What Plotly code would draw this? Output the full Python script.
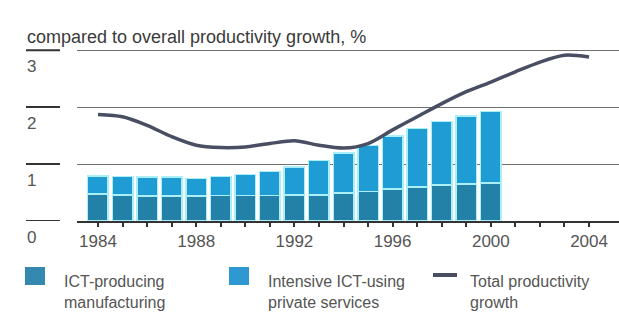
import plotly.graph_objects as go

# ---- data ----
bar_years = list(range(1984, 2001))
ict_producing = [0.47, 0.46, 0.44, 0.44, 0.44, 0.45, 0.45, 0.45, 0.46, 0.46,
                 0.49, 0.52, 0.56, 0.60, 0.63, 0.65, 0.67]
bar_totals = [0.79, 0.78, 0.77, 0.77, 0.75, 0.78, 0.82, 0.87, 0.95, 1.06,
              1.19, 1.33, 1.49, 1.62, 1.75, 1.84, 1.92]
ict_using = [round(t - d, 2) for t, d in zip(bar_totals, ict_producing)]

line_years = list(range(1984, 2005))
total_growth = [1.87, 1.83, 1.68, 1.48, 1.33, 1.29, 1.30, 1.36, 1.41, 1.33,
                1.28, 1.36, 1.60, 1.83, 2.06, 2.27, 2.44, 2.62, 2.79, 2.91, 2.88]

y_ticks = [0, 1, 2, 3]
x_tick_years = list(range(1984, 2005))
x_tick_labels = [str(y) if (y - 1984) % 4 == 0 else "" for y in x_tick_years]

series_names = ["ICT-producing<br>manufacturing",
                "Intensive ICT-using<br>private services",
                "Total productivity<br>growth"]
title_text = "compared to overall productivity growth, %"

# ---- style ----
DARK = "#2380a6"
LIGHT = "#1f9cd4"
LINE = "#4a4e62"
EDGE = "#aaeff8"
TXT = "#555555"
FONT = "Liberation Sans, Arial, sans-serif"

W, H = 619, 320
ML, MR, MT, MB = 77, 0, 49, 99
PW, PH = W - ML - MR, H - MT - MB


def px(x):
    return (x - ML) / PW


def py(y):
    return (H - MB - y) / PH


fig = go.Figure()
fig.add_trace(go.Bar(x=bar_years, y=ict_producing, name=series_names[0],
                     marker=dict(color=DARK, line=dict(color=EDGE, width=1.5)),
                     showlegend=False))
fig.add_trace(go.Bar(x=bar_years, y=ict_using, name=series_names[1],
                     marker=dict(color=LIGHT, line=dict(color=EDGE, width=1.5)),
                     showlegend=False))
fig.add_trace(go.Scatter(x=line_years, y=total_growth, name=series_names[2],
                         mode="lines", line=dict(color=LINE, width=3.5, shape="spline",
                                                 smoothing=0.8),
                         showlegend=False))

shapes = []
annotations = []
# short marks and labels at left of y axis
for v in y_ticks:
    shapes.append(dict(type="line", xref="paper", yref="y",
                       x0=px(26), x1=px(60), y0=v, y1=v,
                       line=dict(color="#333333", width=2)))
    annotations.append(dict(xref="paper", yref="y", x=px(25), y=v, yshift=-16,
                            text=str(v), showarrow=False, xanchor="left",
                            yanchor="middle",
                            font=dict(family=FONT, size=17, color=TXT)))

# title
annotations.append(dict(xref="paper", yref="paper", x=px(25), y=py(37),
                        text=title_text, showarrow=False, xanchor="left",
                        yanchor="middle",
                        font=dict(family=FONT, size=18, color="#3a3a3a")))

# legend (custom)
shapes.append(dict(type="rect", xref="paper", yref="paper",
                   x0=px(25), x1=px(45), y0=py(267), y1=py(285),
                   fillcolor="#3589b0", line=dict(width=0)))
shapes.append(dict(type="rect", xref="paper", yref="paper",
                   x0=px(229), x1=px(249), y0=py(267), y1=py(285),
                   fillcolor="#2d98d2", line=dict(width=0)))
shapes.append(dict(type="line", xref="paper", yref="paper",
                   x0=px(433), x1=px(457), y0=py(275), y1=py(275),
                   line=dict(color=LINE, width=4)))
for xt, name in zip([62, 266, 468], series_names):
    annotations.append(dict(xref="paper", yref="paper", x=px(xt), y=py(292),
                            text=name, showarrow=False, xanchor="left",
                            yanchor="middle", align="left",
                            font=dict(family=FONT, size=16, color=TXT)))

fig.update_layout(
    width=W, height=H,
    margin=dict(l=ML, r=MR, t=MT, b=MB, pad=0),
    paper_bgcolor="white", plot_bgcolor="white",
    barmode="stack", bargap=0.165,
    font=dict(family=FONT, color=TXT),
    shapes=shapes, annotations=annotations,
    xaxis=dict(range=[1983.145, 2005.22], tickmode="array",
               tickvals=x_tick_years, ticktext=x_tick_labels,
               ticks="outside", ticklen=4, tickwidth=1.5, tickcolor="#333333",
               showline=True, linecolor="#333333", linewidth=2,
               showgrid=False, zeroline=False,
               tickfont=dict(family=FONT, size=17, color=TXT)),
    yaxis=dict(range=[0, 3.02], tickvals=y_ticks, showticklabels=False,
               showgrid=True, gridcolor="#707070", gridwidth=1,
               zeroline=False, showline=False),
)

fig.write_html("out.html",
               config={"displayModeBar": False},
               post_script="document.body.style.margin='0';"
                           "document.body.style.padding='0';"
                           "document.body.style.overflow='hidden';")
